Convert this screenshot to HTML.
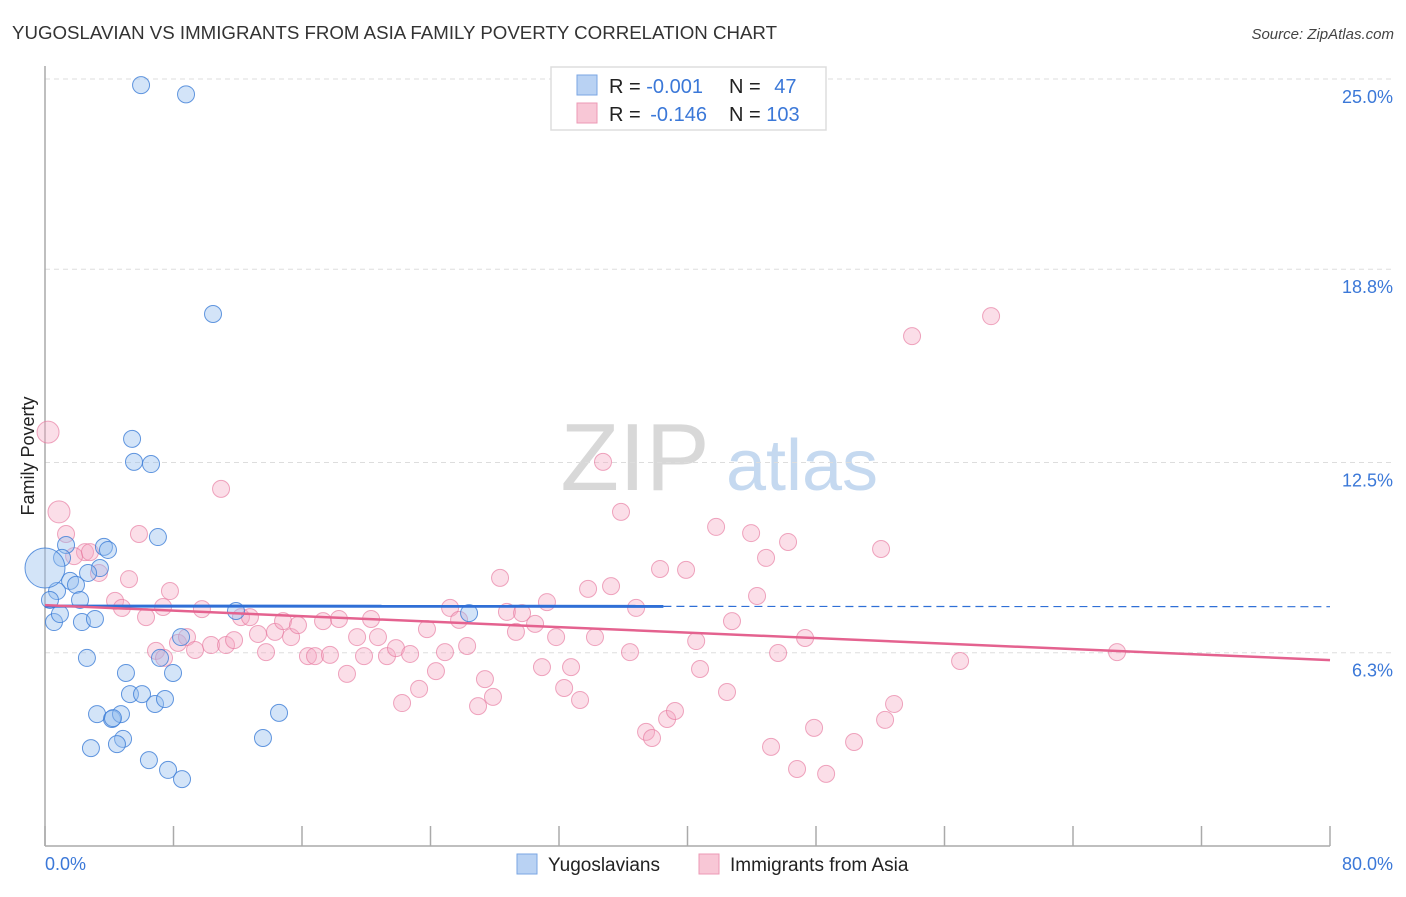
<!DOCTYPE html>
<html><head><meta charset="utf-8">
<style>
body{margin:0;background:#fff;font-family:"Liberation Sans",sans-serif;}
svg text{font-family:"Liberation Sans",sans-serif;}
</style></head>
<body>
<svg id="chart" width="1406" height="892" viewBox="0 0 1406 892" xmlns="http://www.w3.org/2000/svg">
<text x="12" y="39" font-size="18" fill="#333" textLength="765" lengthAdjust="spacingAndGlyphs">YUGOSLAVIAN VS IMMIGRANTS FROM ASIA FAMILY POVERTY CORRELATION CHART</text>
<text x="1394" y="39" font-size="15" fill="#444" text-anchor="end" font-style="italic">Source: ZipAtlas.com</text>
<g>
<text x="635" y="490" font-size="96" fill="#d8d8d8" font-family="Liberation Serif" text-anchor="middle">ZIP</text>
<text x="802" y="490" font-size="72" fill="#c5d9f0" text-anchor="middle">atlas</text>
</g>
<g id="grid"></g>
<g id="axes"></g>
<g id="pts"></g>
<g id="trends"></g>
<text transform="translate(34,456) rotate(-90)" font-size="18" fill="#222" text-anchor="middle">Family Poverty</text>
<g>
<rect x="551" y="67" width="275" height="63" fill="#fff" stroke="#ddd" stroke-width="1.5"/>
<rect x="577" y="75" width="20" height="20" fill="#b9d2f3" stroke="#7aa6e3"/>
<rect x="577" y="103" width="20" height="20" fill="#f8c7d6" stroke="#ec9ab5"/>
<text x="609" y="93" font-size="20" fill="#222">R = <tspan fill="#3b78d8">-0.001</tspan></text>
<text x="729" y="93" font-size="20" fill="#222">N = <tspan fill="#3b78d8" dx="8">47</tspan></text>
<text x="609" y="121" font-size="20" fill="#222">R = <tspan fill="#3b78d8" dx="4">-0.146</tspan></text>
<text x="729" y="121" font-size="20" fill="#222">N = <tspan fill="#3b78d8">103</tspan></text>
</g>
<g>
<rect x="517" y="854" width="20" height="20" fill="#b9d2f3" stroke="#7aa6e3"/>
<text x="548" y="871" font-size="19" fill="#222">Yugoslavians</text>
<rect x="699" y="854" width="20" height="20" fill="#f8c7d6" stroke="#ec9ab5"/>
<text x="730" y="871" font-size="19" fill="#222">Immigrants from Asia</text>
</g>
</svg>
<script>
const yTicks=[6.3,12.5,18.8,25.0];
const yTickLabels=["6.3%","12.5%","18.8%","25.0%"];
const xLabels=["0.0%","80.0%"];
const blueX=[5.98,8.78,10.46,5.42,5.54,6.6,7.03,1.31,3.67,3.92,1.06,3.42,2.68,1.56,1.93,0.75,0.31,2.18,0.56,2.3,3.11,0.93,8.47,11.89,26.4,7.16,2.61,5.04,7.97,5.29,6.04,6.85,7.47,3.24,4.17,4.73,14.57,13.57,4.86,4.48,2.86,6.47,7.66,8.53,4.23,0];
const blueY=[24.8,24.5,17.34,13.27,12.52,12.45,10.07,9.81,9.75,9.65,9.39,9.06,8.9,8.64,8.51,8.31,8.02,8.02,7.3,7.3,7.4,7.56,6.81,7.66,7.59,6.13,6.13,5.64,5.64,4.95,4.95,4.63,4.79,4.3,4.14,4.3,4.34,3.52,3.49,3.32,3.19,2.8,2.48,2.18,4.17,9.06];
const pinkX=[0.19,0.87,1.31,2.49,1.81,2.8,3.36,5.23,4.36,4.79,5.85,7.78,7.35,6.29,10.96,9.77,12.2,12.76,6.91,7.41,8.28,8.84,9.34,10.34,11.27,11.77,13.26,13.76,14.32,14.82,15.32,15.75,16.37,16.81,17.74,17.31,18.3,18.8,19.43,19.86,20.3,20.73,21.29,21.85,22.23,22.73,23.29,23.78,24.34,24.9,25.22,25.78,26.28,26.96,27.39,27.89,28.33,28.76,29.32,29.7,30.51,31.25,30.94,31.82,32.32,32.75,33.31,33.81,34.24,34.74,35.24,35.86,36.42,36.8,37.42,37.79,38.29,38.73,39.22,39.91,40.54,40.78,41.78,42.46,42.77,43.96,44.33,44.89,45.2,45.64,46.26,46.82,47.32,47.88,48.63,50.37,52.05,52.3,52.86,53.98,56.97,58.9,66.74];
const pinkY=[13.49,10.89,10.17,9.58,9.45,9.58,8.9,8.7,7.99,7.76,10.17,8.31,7.79,7.46,11.64,7.72,7.46,7.46,6.36,6.13,6.62,6.81,6.39,6.55,6.55,6.71,6.91,6.32,6.98,7.33,6.81,7.2,6.19,6.19,6.23,7.33,7.4,5.61,6.81,6.19,7.4,6.81,6.19,6.45,4.66,6.26,5.12,7.07,5.7,6.32,7.76,7.37,6.52,4.56,5.44,4.86,8.74,7.63,6.98,7.59,7.24,7.95,5.83,6.81,5.15,5.83,4.76,8.38,6.81,12.52,8.47,10.89,6.32,7.76,3.72,3.52,9.03,4.14,4.4,9.0,6.68,5.77,10.4,5.02,7.33,10.2,8.15,9.39,3.23,6.29,9.91,2.51,6.78,3.85,2.35,3.39,9.68,4.11,4.63,16.62,6.03,17.27,6.32];
const blueTrend=[7.82,7.80];
const pinkTrend=[7.85,6.06];
const blueSolidEnd=38.5;
const NS="http://www.w3.org/2000/svg";
const X0=45,X1=1330,Y0=846,Ytop=79;
const sx=v=>X0+v/80*(X1-X0);
const sy=v=>Y0-v/25*(Y0-Ytop);
function mk(tag,attrs,parent){const e=document.createElementNS(NS,tag);for(const k in attrs)e.setAttribute(k,attrs[k]);parent.appendChild(e);return e;}
const grid=document.getElementById('grid'),axes=document.getElementById('axes'),pts=document.getElementById('pts'),tr=document.getElementById('trends');
yTicks.forEach((t,i)=>{
 const l=mk('line',{x1:X0,x2:1392,y1:sy(t),y2:sy(t),stroke:'#ddd','stroke-dasharray':'5,4'},grid);
 
 
 const tx=mk('text',{x:1393,y:sy(t)+24,'font-size':18,fill:'#3b78d8','text-anchor':'end'},axes);
 tx.textContent=yTickLabels[i];
 
 
});
const ya=mk('line',{x1:X0,x2:X0,y1:66,y2:Y0,stroke:'#aaa','stroke-width':1.5},axes);


const xa=mk('line',{x1:X0,x2:X1,y1:Y0,y2:Y0,stroke:'#aaa','stroke-width':1.5},axes);


for(let i=0;i<=10;i++){
 const t=mk('line',{x1:sx(i*8),x2:sx(i*8),y1:Y0-20,y2:Y0,stroke:'#aaa','stroke-width':1.5},axes);
 
 
}
const xl0=mk('text',{x:45,y:870,'font-size':18,fill:'#3b78d8'},axes);xl0.textContent=xLabels[0];


const xl1=mk('text',{x:1393,y:870,'font-size':18,fill:'#3b78d8','text-anchor':'end'},axes);xl1.textContent=xLabels[1];


pinkX.forEach((v,i)=>{
 const r=(i<2)?11:8.5;
 const c=mk('circle',{cx:sx(v),cy:sy(pinkY[i]),r:r,fill:'rgba(245,168,194,0.38)',stroke:'rgba(230,120,158,0.65)','stroke-width':1},pts);
 
 
});
blueX.forEach((v,i)=>{
 const r=(i===blueX.length-1)?20:8.5;
 const c=mk('circle',{cx:sx(v),cy:sy(blueY[i]),r:r,fill:'rgba(150,190,238,0.42)',stroke:'rgba(60,125,215,0.8)','stroke-width':1},pts);
 
 
});
const bAt=x=>blueTrend[0]+(blueTrend[1]-blueTrend[0])*x/80;
const b1=mk('line',{x1:sx(0),y1:sy(bAt(0)),x2:sx(blueSolidEnd),y2:sy(bAt(blueSolidEnd)),stroke:'#2f6fd6','stroke-width':3},tr);


const b2=mk('line',{x1:sx(blueSolidEnd),y1:sy(bAt(blueSolidEnd)),x2:sx(80),y2:sy(bAt(80)),stroke:'#2f6fd6','stroke-width':1.2,'stroke-dasharray':'8,5'},tr);


const p1=mk('line',{x1:sx(0),y1:sy(pinkTrend[0]),x2:sx(80),y2:sy(pinkTrend[1]),stroke:'#e4628f','stroke-width':2.5},tr);


</script>
</body></html>
